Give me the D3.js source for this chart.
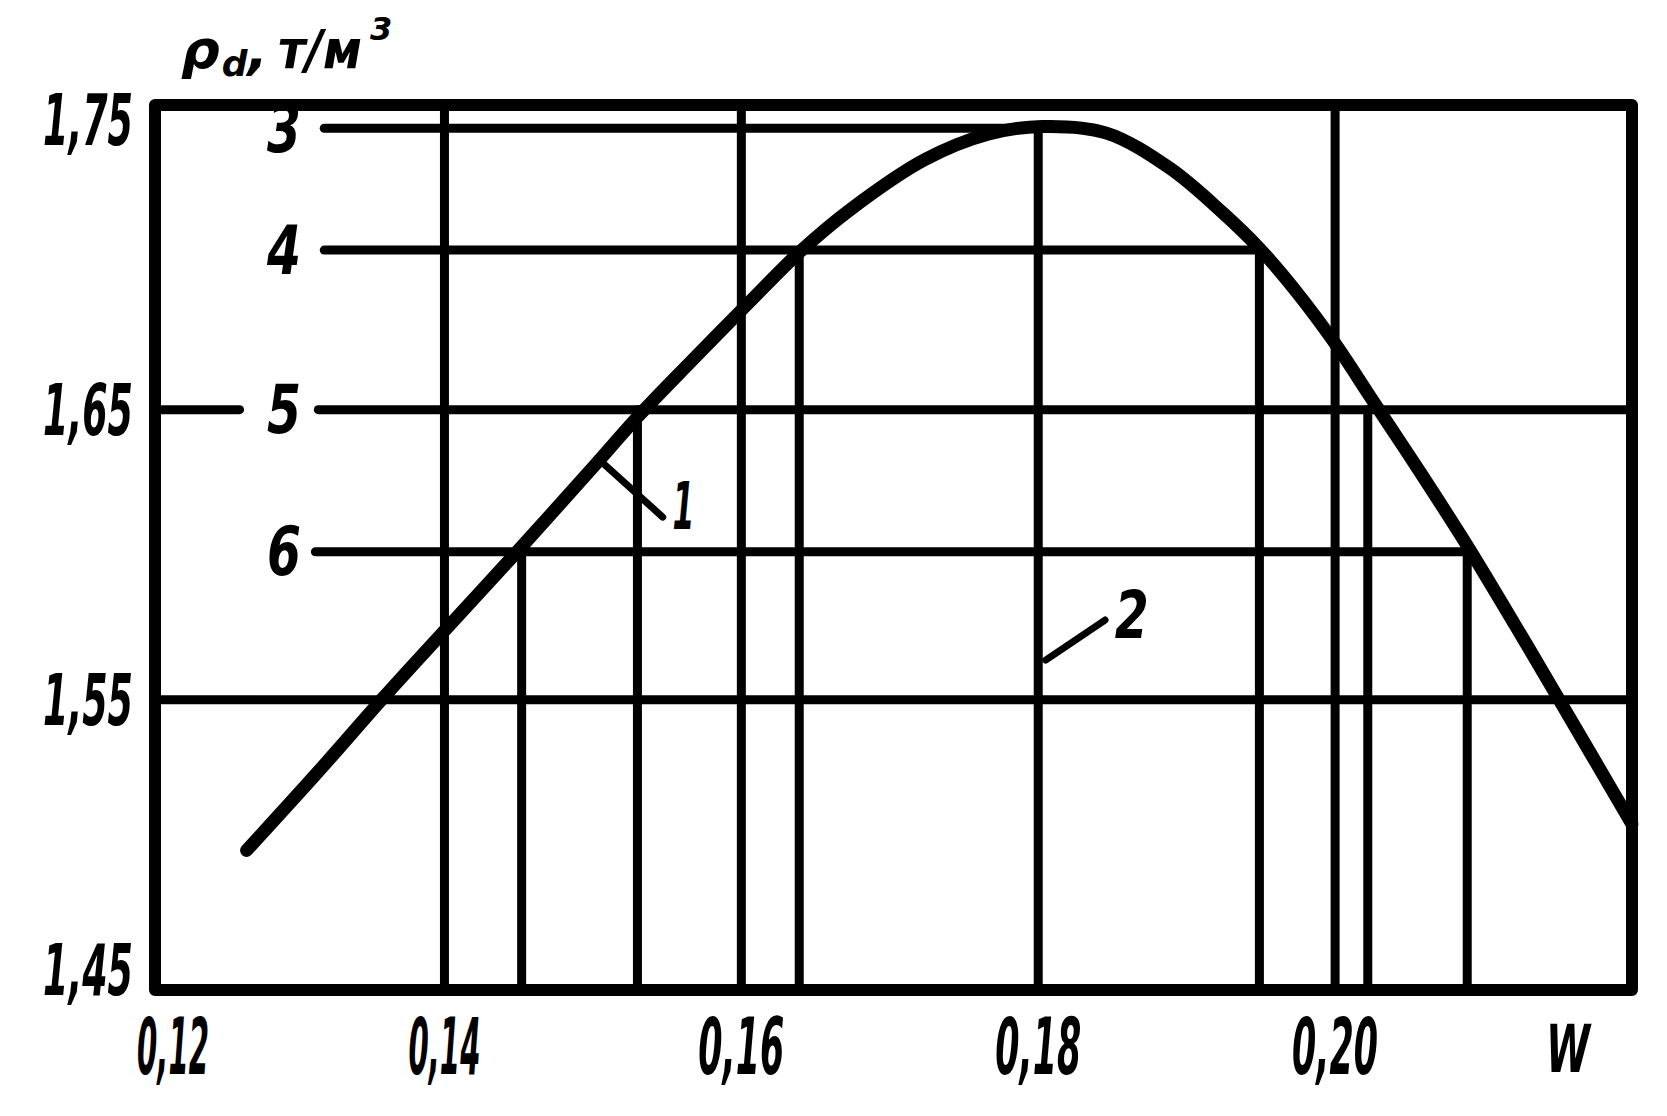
<!DOCTYPE html>
<html>
<head>
<meta charset="utf-8">
<script src="https://cdn.jsdelivr.net/npm/d3@7"></script>
<style>
  html, body { margin: 0; padding: 0; background: #fff; }
  svg { display: block; }
  text { font-family: "DejaVu Sans", sans-serif; font-weight: bold; font-style: oblique; fill: #000; }
</style>
</head>
<body>
<svg id="chart" width="1667" height="1116"></svg>
<script>
// ---- data ----
// curve 1: dry density vs. moisture
const curveW   = [0.12667, 0.13154, 0.13584, 0.13942, 0.14515, 0.15017, 0.15303, 0.15661, 0.16055, 0.16392, 0.16735, 0.17237, 0.17666, 0.18025, 0.18455, 0.18884, 0.19242, 0.19493, 0.19743, 0.19994, 0.20245, 0.20567, 0.20889, 0.21212, 0.21534, 0.21999];
const curveRho = [1.4981, 1.5255, 1.5505, 1.5706, 1.6025, 1.6311, 1.6476, 1.6666, 1.6871, 1.7043, 1.7190, 1.7362, 1.7450, 1.7476, 1.7454, 1.7333, 1.7179, 1.7054, 1.6904, 1.6732, 1.6538, 1.6289, 1.6032, 1.5758, 1.5479, 1.5072];

// numbered density levels 3..6
const levelLabels = ["3", "4", "5", "6"];
const levelRho    = [1.747, 1.705, 1.65, 1.601];
const levelWStart = [0.1319, 0.1319, 0.1315, 0.1313];
const levelWEnd   = [0.1790, 0.1949, 0.2200, 0.2089];

// vertical drops from level/curve intersections to the W axis
const dropW   = [0.1452, 0.1530, 0.1639, 0.1800, 0.1949, 0.2022, 0.2089];
const dropRho = [1.601, 1.650, 1.705, 1.747, 1.705, 1.650, 1.601];

// full-height / full-width grid lines
const gridW   = [0.14, 0.16, 0.20];
const gridRho = [1.55];
// short stub of the 1.65 line at the left edge
const stubW   = [0.1205, 0.1262];
const stubRho = 1.65;

// axes
const xTicks = [0.12, 0.14, 0.16, 0.18, 0.20];
const xTickLabels = ["0,12", "0,14", "0,16", "0,18", "0,20"];
const yTicks = [1.45, 1.55, 1.65, 1.75];
const yTickLabels = ["1,45", "1,55", "1,65", "1,75"];
const xDomain = [0.1205, 0.22];
const yDomain = [1.45, 1.755];

// callouts: curve "1", optimum line "2"
const calloutLabels = ["1", "2"];
const calloutFromW   = [0.1503, 0.1805];
const calloutFromRho = [1.6333, 1.5637];
const calloutToW     = [0.1547, 0.1845];
const calloutToRho   = [1.6130, 1.5775];
const calloutTextW   = [0.1561, 0.1863];
const calloutTextRho = [1.6165, 1.5789];

// ---- drawing ----
const svg = d3.select("#chart");
const x = d3.scaleLinear().domain(xDomain).range([155, 1632]);
const y = d3.scaleLinear().domain(yDomain).range([990, 105]);

const GRID = 9, FRAME = 12, CURVE = 13;
const g = svg.append("g").attr("stroke", "#000").attr("stroke-linecap", "round").attr("fill", "none");

// full-height verticals
g.selectAll("line.gv").data(gridW).join("line")
  .attr("x1", d => x(d)).attr("x2", d => x(d))
  .attr("y1", y(yDomain[1])).attr("y2", y(yDomain[0]))
  .attr("stroke-width", GRID);

// full-width horizontals
g.selectAll("line.gh").data(gridRho).join("line")
  .attr("x1", x(xDomain[0])).attr("x2", x(xDomain[1]))
  .attr("y1", d => y(d)).attr("y2", d => y(d))
  .attr("stroke-width", GRID);

// 1.65 stub at left
g.append("line")
  .attr("x1", x(stubW[0])).attr("x2", x(stubW[1]))
  .attr("y1", y(stubRho)).attr("y2", y(stubRho))
  .attr("stroke-width", GRID);

// level lines
g.selectAll("line.lv").data(levelRho).join("line")
  .attr("x1", (d, i) => x(levelWStart[i])).attr("x2", (d, i) => x(levelWEnd[i]))
  .attr("y1", d => y(d)).attr("y2", d => y(d))
  .attr("stroke-width", GRID);

// drops
g.selectAll("line.dr").data(dropW).join("line")
  .attr("x1", d => x(d)).attr("x2", d => x(d))
  .attr("y1", (d, i) => y(dropRho[i])).attr("y2", y(yDomain[0]))
  .attr("stroke-width", GRID);

// frame
g.append("rect")
  .attr("x", x(xDomain[0])).attr("y", y(yDomain[1]))
  .attr("width", x(xDomain[1]) - x(xDomain[0]))
  .attr("height", y(yDomain[0]) - y(yDomain[1]))
  .attr("stroke-width", FRAME).attr("stroke-linejoin", "round");

// curve
const pts = curveW.map((w, i) => [w, curveRho[i]]);
g.append("path")
  .datum(pts)
  .attr("d", d3.line().x(d => x(d[0])).y(d => y(d[1])).curve(d3.curveCatmullRom.alpha(0.5)))
  .attr("stroke-width", CURVE).attr("stroke-linejoin", "round");

// callout leaders
g.selectAll("line.co").data(calloutLabels).join("line")
  .attr("x1", (d, i) => x(calloutFromW[i])).attr("y1", (d, i) => y(calloutFromRho[i]))
  .attr("x2", (d, i) => x(calloutToW[i])).attr("y2", (d, i) => y(calloutToRho[i]))
  .attr("stroke-width", 7);

// callout labels
svg.selectAll("text.co").data(calloutLabels).join("text")
  .attr("x", (d, i) => x(calloutTextW[i])).attr("y", (d, i) => y(calloutTextRho[i]))
  .attr("text-anchor", "middle").attr("dominant-baseline", "central")
  .attr("font-size", 66)
  .attr("textLength", (d, i) => i === 0 ? 22 : 34).attr("lengthAdjust", "spacingAndGlyphs")
  .text(d => d);

// level labels
svg.selectAll("text.lv").data(levelLabels).join("text")
  .attr("x", 284).attr("y", (d, i) => y(levelRho[i]))
  .attr("text-anchor", "middle").attr("dominant-baseline", "central")
  .attr("font-size", 68)
  .attr("textLength", 34).attr("lengthAdjust", "spacingAndGlyphs")
  .text(d => d);

// x axis labels (first label kept clear of the frame corner)
const xAxis = d3.axisBottom(x).tickValues(xTicks).tickSize(0).tickPadding(0)
  .tickFormat((d, i) => xTickLabels[i]);
const xa = svg.append("g").attr("transform", `translate(0, 1074)`).call(xAxis);
xa.select(".domain").remove();
xa.selectAll(".tick")
  .attr("transform", d => `translate(${Math.max(x(d), x(xDomain[0]) + 18)},0)`);
xa.selectAll("text")
  .attr("y", 0).attr("dy", 0)
  .attr("font-size", 78)
  .attr("font-family", "'DejaVu Sans', sans-serif")
  .attr("textLength", (d, i) => i < 2 ? 72 : 86).attr("lengthAdjust", "spacingAndGlyphs");

// y axis labels (bottom label lifted clear of the x labels)
const yAxis = d3.axisLeft(y).tickValues(yTicks).tickSize(0).tickPadding(0)
  .tickFormat((d, i) => yTickLabels[i]);
const ya = svg.append("g").attr("transform", `translate(133, 0)`).call(yAxis);
ya.select(".domain").remove();
ya.selectAll(".tick")
  .attr("transform", d => `translate(0,${Math.min(y(d), y(yDomain[0]) - 20)})`);
ya.selectAll("text")
  .attr("x", 0).attr("dy", 0)
  .attr("dominant-baseline", "central")
  .attr("font-size", 72)
  .attr("font-family", "'DejaVu Sans', sans-serif")
  .attr("textLength", 90).attr("lengthAdjust", "spacingAndGlyphs");

// axis names
svg.append("text")
  .attr("x", x(xDomain[1]) - 64).attr("y", 1072)
  .attr("text-anchor", "middle")
  .attr("font-size", 66)
  .attr("textLength", 44).attr("lengthAdjust", "spacingAndGlyphs")
  .text("W");

const yt = svg.append("text")
  .attr("x", 181).attr("y", 68)
  .attr("font-size", 54);
yt.append("tspan").text("ρ");
yt.append("tspan").attr("font-size", 36).attr("dx", 2).attr("dy", 8).text("d");
yt.append("tspan").attr("dy", -8).text(",");
yt.append("tspan").attr("dx", 10).attr("textLength", 84).attr("lengthAdjust", "spacingAndGlyphs").text("т/м");
yt.append("tspan").attr("font-size", 32).attr("dx", 8).attr("dy", -28).text("3");
</script>
</body>
</html>
